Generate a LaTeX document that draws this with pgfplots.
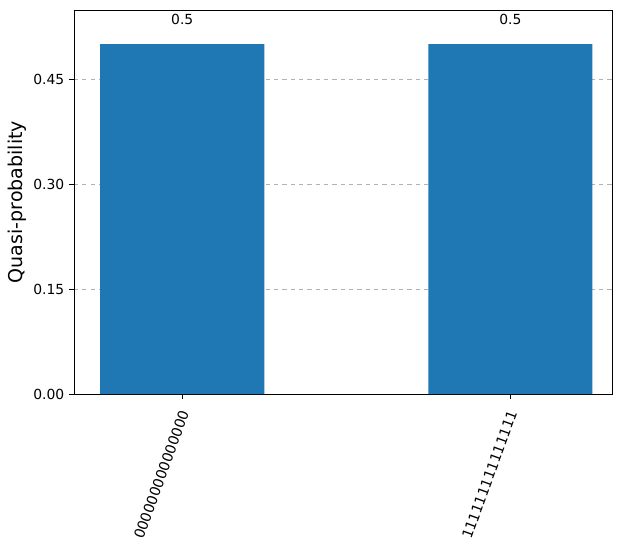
\documentclass[border=0pt]{standalone}
\usepackage{pgfplots}
\pgfplotsset{compat=1.18}
\usepackage{fontspec}
\setmainfont{DejaVu Sans}
\definecolor{mplblue}{HTML}{1F77B4}
\begin{document}
\begin{tikzpicture}
\begin{axis}[
  at={(0,0)}, anchor=south west,
  scale only axis,
  width=387.36pt, height=276.48pt,
  xmin=-0.33, xmax=1.31,
  ymin=0, ymax=0.5486,
  ybar, bar width=0.5,
  xtick={0,1},
  xticklabels={000000000000000,111111111111111},
  xticklabel style={yshift=-9pt, xshift=5.5pt, rotate=70, anchor=base east, inner sep=1pt, font=\fontsize{10.2}{12}\selectfont},
  ytick={0,0.15,0.30,0.45},
  yticklabel style={font=\fontsize{10}{12}\selectfont},
  /pgf/number format/assume math mode=true,
  yticklabel={\pgfmathprintnumber[fixed,fixed zerofill,precision=2]{\tick}},
  tick align=outside,
  xtick pos=bottom, ytick pos=left,
  major tick length=3.5pt,
  tick style={black, line width=0.6pt},
  ymajorgrids,
  grid style={dashed, color=black!30, line width=0.5pt},
  axis line style={line width=0.6pt},
  ylabel={Quasi-probability},
  ylabel style={font=\fontsize{13.7}{16}\selectfont, yshift=-2pt},
  nodes near coords,
  nodes near coords style={font=\fontsize{10}{12}\selectfont, yshift=10.5pt},
  every node near coord/.append style={/pgf/number format/assume math mode=true},
]
\addplot[fill=mplblue, draw=none] coordinates {(0,0.5) (1,0.5)};
\end{axis}
\pgfresetboundingbox
\path (-53.28pt,-113.76pt) rectangle (398.16pt,283.68pt);
\end{tikzpicture}
\end{document}
